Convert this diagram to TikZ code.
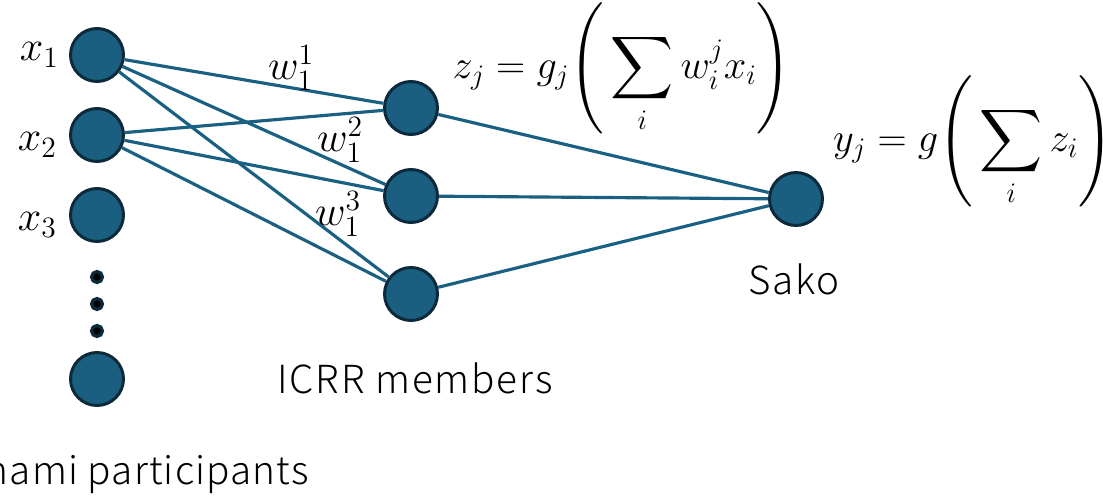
\documentclass[tikz,border=0pt]{standalone}
\usepackage{fix-cm}
\usepackage{amsmath}
\usepackage{fontspec}
\newfontfamily\capfont{Noto Sans CJK JP}[UprightFont={* Light}, LetterSpace=5]
\newfontfamily\partfont{Noto Sans CJK JP}[UprightFont={* Light}, LetterSpace=3]
\usetikzlibrary{positioning}

\definecolor{unitblue}{RGB}{26,94,128}
\definecolor{unitedge}{RGB}{12,42,58}
\definecolor{linkblue}{RGB}{26,96,131}

\begin{document}
\begin{tikzpicture}[x=0.02cm, y=-0.02cm,
		unit/.style={circle, draw=unitedge, fill=unitblue, line width=1.7pt, minimum size=1.06cm, inner sep=0pt},
		dotnode/.style={circle, draw=unitedge, fill=black, line width=1.8pt, minimum size=0.22cm, inner sep=0pt},
		link/.style={draw=linkblue, line width=1.8pt},
		formula/.style={font=\fontsize{24}{28}\selectfont, inner sep=0pt},
		bigformula/.style={font=\fontsize{23}{27}\selectfont, inner sep=0pt},
		caption/.style={font=\capfont\fontsize{22}{26}\selectfont, inner sep=0pt}]

		\useasboundingbox (0,0) rectangle (1103,496);

		% participants
		\node[unit] (x1) at (97,55) {};
		\node[unit] (x2) at (97,135) {};
		\node[unit] (x3) at (97,215) {};
		\node[dotnode] (d1) at (97,277) {};
		\node[dotnode] (d2) at (97,304) {};
		\node[dotnode] (d3) at (97,331) {};
		\node[unit] (xn) at (97,379) {};

		\node[formula, left=0.2cm of x1] (lx1) {$x_1$};
		\node[formula, left=0.24cm of x2, yshift=-0.2cm] (lx2) {$x_2$};
		\node[formula, left=0.24cm of x3, yshift=-0.2cm] (lx3) {$x_3$};

		% ICRR members
		\node[unit] (h1) at (411,108) {};
		\node[unit] (h2) at (411,196) {};
		\node[unit] (h3) at (411,294) {};

		% Sako
		\node[unit] (out) at (796,199) {};

		% liens
		\draw[link] (x1) -- (h1);
		\draw[link] (x1) -- (h2);
		\draw[link] (x1) -- (h3);
		\draw[link] (x2) -- (h1);
		\draw[link] (x2) -- (h2);
		\draw[link] (x2) -- (h3);

		\draw[link] (h1) -- (out);
		\draw[link] (h2) -- (out);
		\draw[link] (h3) -- (out);

		% poids
		\node[formula] (w1) at (291,68) {$w_1^1$};
		\node[formula] (w2) at (340,140) {$w_1^2$};
		\node[formula] (w3) at (338,214) {$w_1^3$};

		% formules
		\node[bigformula] (zeq) at (622,68) {$z_j = g_j\Bigg(\displaystyle\sum_i w_i^j x_i\Bigg)$};
		\node[bigformula] (yeq) at (973,141) {$y_j = g\Bigg(\displaystyle\sum_i z_i\Bigg)$};

		% légendes
		\node[caption, font=\partfont\fontsize{22}{26}\selectfont, anchor=base east] (lpart) at (309,485) {nami participants};
		\node[caption, anchor=base] (lmemb) at (415,394) {ICRR members};
		\node[caption, anchor=base] (lsako) at (794,295) {Sako};

	\end{tikzpicture}
\end{document}
